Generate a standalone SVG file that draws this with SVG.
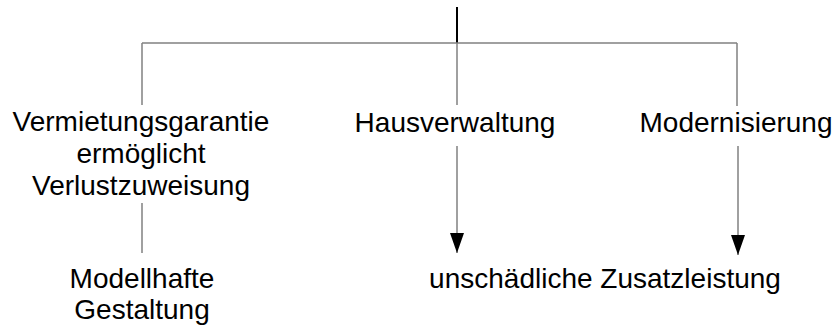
<svg xmlns="http://www.w3.org/2000/svg" width="836" height="331" viewBox="0 0 836 331">
  <style>
    .lbl { font-family: "Liberation Sans", Arial, sans-serif; font-size: 28px; fill: #000; text-anchor: middle; }
    .edge { stroke: #808080; stroke-width: 1.5; fill: none; }
    .root { stroke: #000; stroke-width: 2; fill: none; }
  </style>
  <defs>
    <!-- filled arrowhead, 20 long and 14 wide, tip at the line end -->
    <marker id="arrow" markerUnits="userSpaceOnUse" markerWidth="20" markerHeight="14" refX="20" refY="7" orient="auto">
      <path d="M0,0 L20,7 L0,14 Z" fill="#000"/>
    </marker>
  </defs>

  <g id="connectors">
    <line class="root" x1="457" y1="7" x2="457" y2="43"/>
    <line class="edge" x1="142" y1="43" x2="737" y2="43"/>
    <line class="edge" x1="142" y1="43" x2="142" y2="105"/>
    <line class="edge" x1="457" y1="43" x2="457" y2="105"/>
    <line class="edge" x1="737" y1="43" x2="737" y2="106"/>
    <line class="edge" x1="142" y1="203" x2="142" y2="253"/>
    <line class="edge" x1="457" y1="146" x2="457" y2="253" marker-end="url(#arrow)"/>
    <line class="edge" x1="738" y1="146" x2="738" y2="255" marker-end="url(#arrow)"/>
  </g>

  <g id="node-vermietungsgarantie">
    <text class="lbl" x="141" y="131">Vermietungsgarantie</text>
    <text class="lbl" x="141" y="163">ermöglicht</text>
    <text class="lbl" x="141" y="195">Verlustzuweisung</text>
  </g>
  <g id="node-hausverwaltung">
    <text class="lbl" x="455" y="132">Hausverwaltung</text>
  </g>
  <g id="node-modernisierung">
    <text class="lbl" x="736" y="132">Modernisierung</text>
  </g>
  <g id="node-modellhafte-gestaltung">
    <text class="lbl" x="142" y="288">Modellhafte</text>
    <text class="lbl" x="142" y="319">Gestaltung</text>
  </g>
  <g id="node-zusatzleistung">
    <text class="lbl" x="605" y="288">unschädliche Zusatzleistung</text>
  </g>
</svg>
